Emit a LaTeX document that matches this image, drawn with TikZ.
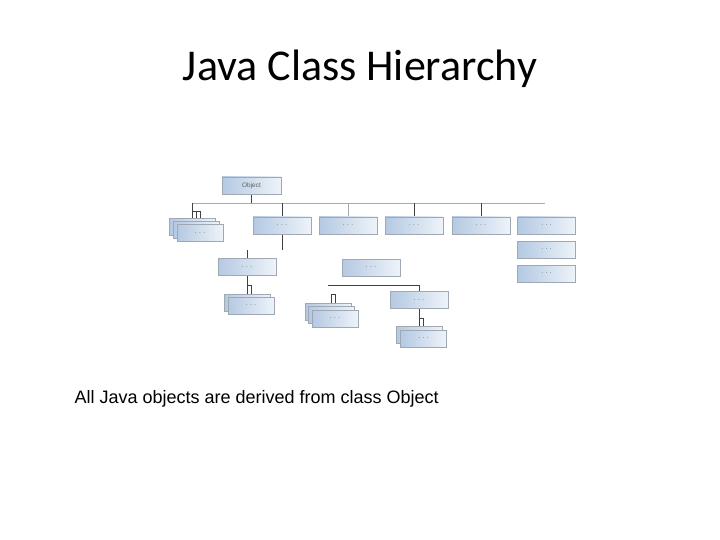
\documentclass[tikz,border=0pt]{standalone}
\usepackage{fontspec}
\setmainfont{Liberation Sans}
\newfontfamily\titlefont{Carlito}
\usetikzlibrary{calc, backgrounds}

\definecolor{clsL}{RGB}{180,201,226}
\definecolor{clsR}{RGB}{238,243,249}
\definecolor{clsLine}{RGB}{160,168,180}
\definecolor{clsEdge}{RGB}{100,105,115}
\definecolor{busGray}{RGB}{170,170,170}
\definecolor{linkDark}{RGB}{65,65,65}

\tikzset{
    clsbox/.style={rectangle, draw=clsLine, line width=0.5pt,
        left color=clsL, right color=clsR,
        minimum width=58pt, minimum height=17pt, inner sep=0pt,
        font=\fontsize{6.5}{7}\selectfont, text=gray!75!black,
        path picture={\draw[clsEdge, line width=1.2pt]
            (path picture bounding box.south west) --
            (path picture bounding box.north west);}},
    stackbox/.style={clsbox, minimum width=46pt},
    bus/.style={busGray, line width=0.8pt},
    link/.style={linkDark, line width=0.8pt}
}

\begin{document}
\begin{tikzpicture}[x=1pt, y=-1pt]

    % ---- Page ----
    \useasboundingbox (0,0) rectangle (720,540);

    % ---- Title ----
    \node[font=\titlefont\fontsize{44}{50}\selectfont] (title) at (360,69)
        {Java Class Hierarchy};

    % ---- Bus points (connectors without a box at one end) ----
    \coordinate (busW) at (192,203);
    \coordinate (busE) at (545,203);
    \coordinate (kA) at (192,211);
    \coordinate (dropA) at (282,250);
    \coordinate (dropB) at (247,250);
    \coordinate (kB) at (247,285);
    \coordinate (midW) at (328,285);
    \coordinate (kC) at (331,294);

    % ---- Top level ----
    \node[clsbox, minimum width=59pt] (obj) at (251.5,185.5) {Object};

    % ---- Row 1 (stacks are drawn back to front) ----
    \node[stackbox] (s1a) at (192,227) {};
    \node[stackbox] (s1b) at (196,230) {};
    \node[stackbox] (s1c) at (200,233) {. . .};
    \node[clsbox] (r1a) at (282,225.5) {. . .};
    \node[clsbox] (r1b) at (348,225.5) {. . .};
    \node[clsbox] (r1c) at (414,225.5) {. . .};
    \node[clsbox] (r1d) at (481,225.5) {. . .};
    \node[clsbox] (r1e) at (546.5,225.5) {. . .};
    \node[clsbox] (r1f) at (546.5,249.5) {. . .};
    \node[clsbox] (r1g) at (546.5,273.5) {. . .};

    % ---- Row 2 ----
    \node[clsbox] (r2a) at (247,267) {. . .};
    \node[clsbox] (r2b) at (371,267.5) {. . .};
    \node[stackbox] (s2a) at (247,302.5) {};
    \node[stackbox] (s2b) at (251,305.5) {. . .};

    % ---- Row 3 ----
    \node[clsbox] (r3a) at (419,300) {. . .};
    \node[stackbox] (s3a) at (328,311.5) {};
    \node[stackbox] (s3b) at (331.5,315) {};
    \node[stackbox] (s3c) at (335,318.5) {. . .};
    \node[stackbox] (s4a) at (419,334.5) {};
    \node[stackbox] (s4b) at (423.5,338.5) {. . .};

    % ---- Connectors (behind the boxes) ----
    \begin{scope}[on background layer]
        \draw[bus] (busW) -- (busE);
        \draw[link] (obj.south) -- (obj.south |- busW);
        \draw[link] (r1a.north |- busW) -- (r1a.north);
        \draw[bus]  (r1b.north |- busW) -- (r1b.north);
        \draw[link] (r1c.north |- busW) -- (r1c.north);
        \draw[link] (r1d.north |- busW) -- (r1d.north);
        \draw[link] (busW) -- (kA);
        \draw[link] (r1a.south) -- (dropA);
        \draw[link] (dropB) -- (r2a.north);
        \draw[link] (r2a.south) -- (kB);
        \draw[link] (midW) -| (r3a.north);
        \draw[link] (r3a.south) -- ++(0,10) coordinate (kD);

        % stacks
        \draw[link] (kA) -- (s1a.north);
        \draw[link] (kA) -| (s1b.north);
        \draw[link] (kA) -| (s1c.north);
        \draw[link] (kB) -- (s2a.north);
        \draw[link] (kB) -| (s2b.north);
        \draw[link] (kC) -- (kC |- s3b.north);
        \draw[link] (kC) -| (s3c.north);
        \draw[link] (kD) -- (s4a.north);
        \draw[link] (kD) -| (s4b.north);
    \end{scope}

    % ---- Caption ----
    \node[anchor=west, font=\fontsize{18}{21}\selectfont] (caption) at (71,399)
        {All Java objects are derived from class Object};

\end{tikzpicture}
\end{document}
